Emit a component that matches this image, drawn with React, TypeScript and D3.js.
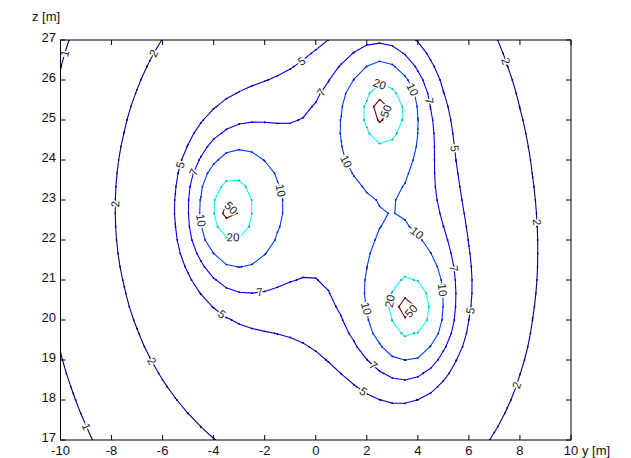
import React, { useMemo } from 'react';
import * as d3 from 'd3';

const W = 631;
const H = 458;

// conductor positions [m], phase angle [deg] and strength of each conductor
const conductorY = [-3.3, 2.65, 3.68];
const conductorZ = [22.77, 25.22, 20.27];
const conductorPhase = [0, 120, 240];
const conductorStrength = [14.4, 14.0, 14.4];

const levels = [1, 2, 5, 7, 10, 20, 50];
const yTicks = [-10, -8, -6, -4, -2, 0, 2, 4, 6, 8, 10];
const zTicks = [17, 18, 19, 20, 21, 22, 23, 24, 25, 26, 27];

// sampling grid (same coarse mesh as the original plot)
const gridStepY = 0.5;
const gridStepZ = 1 / 3;

// where clabel put its labels (level, y, z)
const labelLevel = [1, 1, 2, 2, 2, 2, 2, 2, 5, 5, 5, 5, 5, 5, 7, 7, 7, 7, 7, 7, 10, 10, 10, 10, 10, 10, 10, 20, 20, 20, 50, 50, 50];
const labelY = [-9.7, -8.7, -6.3, -7.86, -6.2, 7.6, 8.8, 7.7, -0.7, -5.44, -3.55, 5.6, 5.85, 1.85, -0.03, -4.8, -2.2, 4.6, 5.53, 2.3, -1.28, -4.4, 3.9, 1.15, 4.0, 2.05, 4.94, -3.24, 2.45, 2.7, -3.4, 2.64, 3.69];
const labelZ = [26.8, 17.4, 26.9, 22.9, 19.05, 26.5, 22.45, 18.4, 26.6, 23.9, 20.25, 24.3, 20.25, 18.2, 25.8, 23.7, 20.7, 25.5, 21.3, 18.9, 23.25, 22.5, 25.8, 23.95, 22.2, 20.3, 20.75, 22.12, 25.95, 20.5, 22.75, 25.25, 20.25];

const jet = (t: number) => {
  const c = (v: number) => Math.max(0, Math.min(1, v));
  const r = c(Math.min(4 * t - 1.5, -4 * t + 4.5));
  const g = c(Math.min(4 * t - 0.5, -4 * t + 3.5));
  const b = c(Math.min(4 * t + 0.5, -4 * t + 2.5));
  return d3.rgb(r * 255, g * 255, b * 255);
};
const levelColor = (v: number) => jet((v - levels[0]) / (levels[levels.length - 1] - levels[0]));

// rms magnitude of the three phase field
function fieldAt(y: number, z: number) {
  let exRe = 0, exIm = 0, ezRe = 0, ezIm = 0;
  conductorY.forEach((cy, i) => {
    const dy = y - cy;
    const dz = z - conductorZ[i];
    const s = conductorStrength[i] / (dy * dy + dz * dz + 1e-9);
    const ph = (conductorPhase[i] * Math.PI) / 180;
    exRe += s * dy * Math.cos(ph);
    exIm += s * dy * Math.sin(ph);
    ezRe += s * dz * Math.cos(ph);
    ezIm += s * dz * Math.sin(ph);
  });
  return Math.sqrt(exRe * exRe + exIm * exIm + ezRe * ezRe + ezIm * ezIm);
}

export default function App() {
  const x = d3.scaleLinear().domain([-10, 10]).range([60.5, 571]);
  const y = d3.scaleLinear().domain([17, 27]).range([440, 40]);

  const { lines, labels } = useMemo(() => {
    // grid padded one step past the axes so lines run off the edges
    const y0 = -10 - gridStepY;
    const z0 = 27 + gridStepZ;
    const nx = Math.round(20 / gridStepY) + 3;
    const nz = Math.round(10 / gridStepZ) + 3;
    const values: number[] = [];
    for (let j = 0; j < nz; j++) {
      for (let i = 0; i < nx; i++) values.push(fieldAt(y0 + i * gridStepY, z0 - j * gridStepZ));
    }
    const gx = (c: number) => x(y0 + (c - 0.5) * gridStepY);
    const gy = (r: number) => y(z0 - (r - 0.5) * gridStepZ);

    const contours = d3.contours().size([nx, nz]).thresholds(levels)(values);
    const lines = contours.map((c) => {
      const rings: [number, number][][] = [];
      c.coordinates.forEach((poly) => poly.forEach((ring) => {
        rings.push(ring.map(([a, b]) => [gx(a), gy(b)] as [number, number]));
      }));
      return { level: c.value, rings };
    });

    // snap every label to the nearest point of its own contour, rotated along it
    const inside = (p: [number, number]) => p[0] > 60.5 && p[0] < 571 && p[1] > 40 && p[1] < 440;
    const labels = labelLevel.map((lv, k) => {
      const px = x(labelY[k]);
      const py = y(labelZ[k]);
      const ln = lines.find((l) => l.level === lv)!;
      let best = { d: Infinity, x: px, y: py, a: 0 };
      ln.rings.forEach((ring) => {
        for (let i = 0; i < ring.length - 1; i++) {
          const p = ring[i], q = ring[i + 1];
          if (!inside(p) || !inside(q)) continue;
          const vx = q[0] - p[0], vy = q[1] - p[1];
          const len2 = vx * vx + vy * vy || 1;
          const t = Math.max(0, Math.min(1, ((px - p[0]) * vx + (py - p[1]) * vy) / len2));
          const cx = p[0] + t * vx, cy = p[1] + t * vy;
          const d = (cx - px) ** 2 + (cy - py) ** 2;
          if (d < best.d) {
            let a = (Math.atan2(vy, vx) * 180) / Math.PI;
            if (a > 90) a -= 180;
            if (a <= -90) a += 180;
            best = { d, x: cx, y: cy, a };
          }
        }
      });
      return { level: lv, x: best.x, y: best.y, a: best.a };
    });
    return { lines, labels };
  }, []);

  const line = d3.line();
  const font = '"Liberation Sans", Arial, sans-serif';

  return (
    <svg width={W} height={H} style={{ position: 'absolute', left: 0, top: 0, background: '#fff' }}>
      <defs>
        <clipPath id="plotClip">
          <rect x={60.5} y={40} width={510.5} height={400} />
        </clipPath>
      </defs>
      <g clipPath="url(#plotClip)">
        {lines.map((l) => (
          <g key={l.level}>
            {l.rings.map((ring, i) => (
              <path key={i} d={line(ring) ?? ''} fill="none" stroke={levelColor(l.level).toString()} strokeWidth={1.1} />
            ))}
            {l.rings.map((ring, i) =>
              ring.map((p, k) => (
                <circle key={`${i}-${k}`} cx={p[0]} cy={p[1]} r={0.9} fill={levelColor(l.level).darker(1.5).toString()} />
              ))
            )}
          </g>
        ))}
      </g>
      {labels.map((lb, i) => (
        <text
          key={i}
          transform={`translate(${lb.x},${lb.y}) rotate(${lb.a})`}
          textAnchor="middle"
          dominantBaseline="central"
          fontFamily={font}
          fontSize={11.5}
          fill="#222"
          stroke="#fff"
          strokeWidth={3}
          paintOrder="stroke"
        >
          {lb.level}
        </text>
      ))}
      {/* frame and ticks */}
      <rect x={60.5} y={40} width={510.5} height={400} fill="none" stroke="#000" strokeWidth={1} />
      {yTicks.map((t) => (
        <g key={`x${t}`}>
          <line x1={x(t)} x2={x(t)} y1={440} y2={435} stroke="#000" />
          <line x1={x(t)} x2={x(t)} y1={40} y2={45} stroke="#000" />
          <text x={x(t)} y={455} textAnchor="middle" fontFamily={font} fontSize={13} fill="#111">
            {t}
          </text>
        </g>
      ))}
      {zTicks.map((t) => (
        <g key={`z${t}`}>
          <line x1={60.5} x2={65.5} y1={y(t)} y2={y(t)} stroke="#000" />
          <line x1={571} x2={566} y1={y(t)} y2={y(t)} stroke="#000" />
          <text x={56} y={y(t) - 3} dy="0.35em" textAnchor="end" fontFamily={font} fontSize={13} fill="#111">
            {t}
          </text>
        </g>
      ))}
      <text x={582} y={455} fontFamily={font} fontSize={13} fill="#111">y [m]</text>
      <text x={32} y={21} fontFamily={font} fontSize={13} fill="#111">z [m]</text>
    </svg>
  );
}
